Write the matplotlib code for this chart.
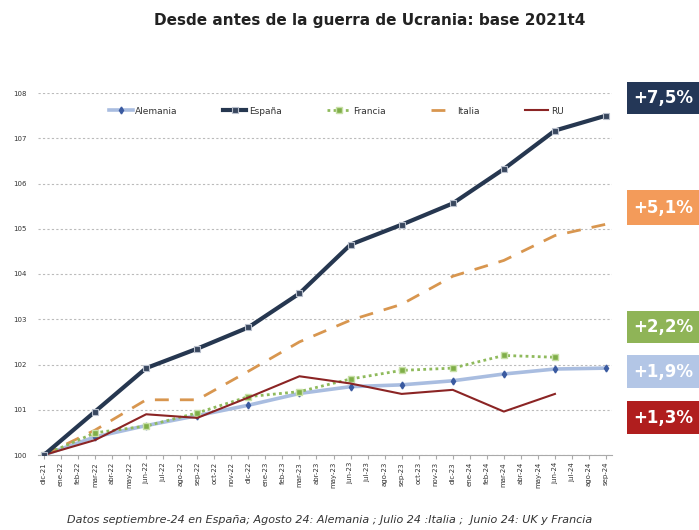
import matplotlib.pyplot as plt
import matplotlib.patches as patches
import numpy as np

months = ['dic-21', 'ene-22', 'feb-22', 'mar-22', 'abr-22', 'may-22', 'jun-22', 'jul-22',
          'ago-22', 'sep-22', 'oct-22', 'nov-22', 'dic-22', 'ene-23', 'feb-23', 'mar-23',
          'abr-23', 'may-23', 'jun-23', 'jul-23', 'ago-23', 'sep-23', 'oct-23', 'nov-23',
          'dic-23', 'ene-24', 'feb-24', 'mar-24', 'abr-24', 'may-24', 'jun-24', 'jul-24',
          'ago-24', 'sep-24']

# quarterly observations: dic-21, mar-22, ..., sep-24
quarters = ['dic-21', 'mar-22', 'jun-22', 'sep-22', 'dic-22', 'mar-23', 'jun-23',
            'sep-23', 'dic-23', 'mar-24', 'jun-24', 'sep-24']

alemania = [100, 100.4, 100.65, 100.87, 101.1, 101.36, 101.51, 101.55, 101.64, 101.79, 101.9, 101.92]
espana = [100, 100.96, 101.92, 102.35, 102.82, 103.57, 104.65, 105.09, 105.56, 106.32, 107.17, 107.5]
francia = [100, 100.49, 100.64, 100.93, 101.29, 101.4, 101.68, 101.87, 101.92, 102.2, 102.16]
italia = [100, 100.55, 101.22, 101.22, 101.85, 102.5, 102.98, 103.33, 103.95, 104.3, 104.85, 105.1]
ru = [100, 100.33, 100.9, 100.82, 101.27, 101.74, 101.58, 101.35, 101.44, 100.96, 101.35]

badges = ['+7,5%', '+5,1%', '+2,2%', '+1,9%', '+1,3%']
badge_colors = ['#243757', '#f39b5a', '#8fb457', '#b3c6e6', '#b01e1e']
badge_y = [82, 190, 311, 355, 401]  # top edge in pixels
badge_h = [32, 35, 32, 33, 33]

W, H = 699, 530
fig = plt.figure(figsize=(W / 100, H / 100), dpi=100)
ax = fig.add_axes([38 / W, 1 - 455 / H, (612 - 38) / W, (455 - 93) / H])

xq = [months.index(q) for q in quarters]

ax.plot(xq, alemania, color='#a9bde0', lw=2.6, marker='d', ms=3.5,
        mfc='#3a5aa0', mec='#3a5aa0', label='Alemania', zorder=3)
ax.plot(xq, espana, color='#263750', lw=3, marker='s', ms=5,
        mfc='#39475e', mec='#b8bfcc', mew=0.8, label='España', zorder=5)
ax.plot(xq[:len(francia)], francia, color='#8fba5c', lw=2, ls=(0, (1, 1.2)), marker='s', ms=5,
        mfc='#7fae48', mec='#c8e0a8', mew=1, label='Francia', zorder=4)
ax.plot(xq, italia, color='#d8964f', lw=2, ls=(0, (5, 4)), label='Italia', zorder=3)
ax.plot(xq[:len(ru)], ru, color='#8b2424', lw=1.5, label='RU', zorder=4)

ax.set_xlim(-0.35, len(months) - 1 + 0.35)
ax.set_ylim(100, 108)
ax.set_yticks(np.arange(100, 109, 1))
ax.set_yticklabels([str(v) for v in range(100, 109)], fontsize=5, color='#333333')
ax.set_xticks(range(len(months)))
ax.set_xticklabels(months, rotation=90, fontsize=5, color='#333333')
ax.tick_params(axis='y', length=0, pad=8)
ax.tick_params(axis='x', length=3, color='#aaaaaa', pad=2)

ax.grid(axis='y', color='#bbbbbb', ls=(0, (2, 2)), lw=0.8)
ax.set_axisbelow(True)
for s in ['top', 'right', 'left']:
    ax.spines[s].set_visible(False)
ax.spines['bottom'].set_color('#aaaaaa')

leg = ax.legend(loc='upper center', bbox_to_anchor=(0.52, 0.985), ncol=5, frameon=False,
                fontsize=6.5, handlelength=2.6, columnspacing=5, handletextpad=0.3)
for t in leg.get_texts():
    t.set_color('#333333')

fig.text(370 / W, 1 - 20 / H, 'Desde antes de la guerra de Ucrania: base 2021t4',
         ha='center', va='center', fontsize=11, fontweight='bold', color='#222222')

fig.text(330 / W, 1 - 520 / H,
         'Datos septiembre-24 en España; Agosto 24: Alemania ; Julio 24 :Italia ;  Junio 24: UK y Francia',
         ha='center', va='center', fontsize=8, style='italic', color='#333333')

for lab, col, yt, h in zip(badges, badge_colors, badge_y, badge_h):
    rect = patches.Rectangle((627 / W, 1 - (yt + h) / H), (W - 627) / W, h / H,
                             transform=fig.transFigure, facecolor=col, edgecolor='none')
    fig.patches.append(rect)
    fig.text(663 / W, 1 - (yt + h / 2) / H, lab, ha='center', va='center',
             fontsize=12, fontweight='bold', color='white')

fig.savefig('out.png', dpi=100)
